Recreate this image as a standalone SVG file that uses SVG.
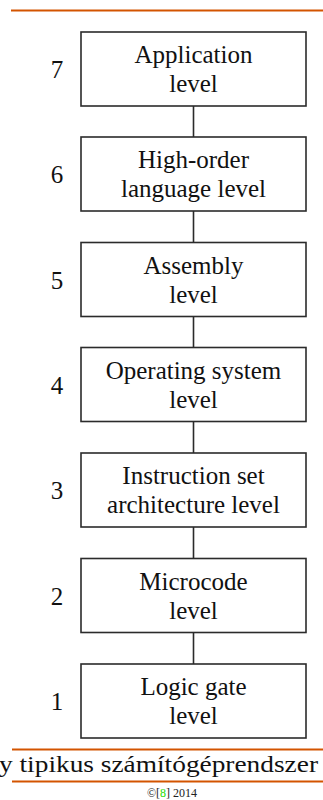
<svg xmlns="http://www.w3.org/2000/svg" width="323" height="800" viewBox="0 0 323 800">
<style>
.box{fill:#fff;stroke:#2b2b2b;stroke-width:1.6}
.t{font-size:25px;fill:#111;text-anchor:middle}
.rule{stroke:#d35400;stroke-width:2.2}
.conn line{stroke:#2b2b2b;stroke-width:1.6}
</style>
<rect width="323" height="800" fill="#fff"/>
<line class="rule" x1="11" y1="10.5" x2="323" y2="10.5"/>
<g class="conn" id="connectors">
<line x1="193.5" y1="106" x2="193.5" y2="137"/>
<line x1="193.5" y1="211" x2="193.5" y2="242.5"/>
<line x1="193.5" y1="316.5" x2="193.5" y2="347.5"/>
<line x1="193.5" y1="421.5" x2="193.5" y2="453"/>
<line x1="193.5" y1="527" x2="193.5" y2="558.5"/>
<line x1="193.5" y1="632.5" x2="193.5" y2="664"/>
</g>
<g font-family="Liberation Serif">
<g id="node7"><rect class="box" x="81" y="32" width="225" height="74"/><text class="t" x="193.5" y="63">Application</text><text class="t" x="193.5" y="92">level</text><text class="t" x="57" y="78">7</text></g>
<g id="node6"><rect class="box" x="81" y="137" width="225" height="74"/><text class="t" x="193.5" y="168">High-order</text><text class="t" x="193.5" y="197">language level</text><text class="t" x="57" y="183">6</text></g>
<g id="node5"><rect class="box" x="81" y="242.5" width="225" height="74"/><text class="t" x="193.5" y="273.5">Assembly</text><text class="t" x="193.5" y="302.5">level</text><text class="t" x="57" y="288.5">5</text></g>
<g id="node4"><rect class="box" x="81" y="347.5" width="225" height="74"/><text class="t" x="193.5" y="378.5">Operating system</text><text class="t" x="193.5" y="407.5">level</text><text class="t" x="57" y="393.5">4</text></g>
<g id="node3"><rect class="box" x="81" y="453" width="225" height="74"/><text class="t" x="193.5" y="484">Instruction set</text><text class="t" x="193.5" y="513">architecture level</text><text class="t" x="57" y="499">3</text></g>
<g id="node2"><rect class="box" x="81" y="558.5" width="225" height="74"/><text class="t" x="193.5" y="589.5">Microcode</text><text class="t" x="193.5" y="618.5">level</text><text class="t" x="57" y="604.5">2</text></g>
<g id="node1"><rect class="box" x="81" y="664" width="225" height="74"/><text class="t" x="193.5" y="695">Logic gate</text><text class="t" x="193.5" y="724">level</text><text class="t" x="57" y="710">1</text></g>
<text x="-1" y="772" font-size="24" fill="#111" textLength="319" lengthAdjust="spacingAndGlyphs">y tipikus számítógéprendszer</text>
<text x="172" y="797" font-size="12" fill="#222" text-anchor="middle">©[<tspan fill="#22dd00">8</tspan>] 2014</text>
</g>
<line class="rule" x1="12" y1="749.5" x2="323" y2="749.5"/>
<line class="rule" x1="12" y1="781.5" x2="323" y2="781.5"/>
</svg>
